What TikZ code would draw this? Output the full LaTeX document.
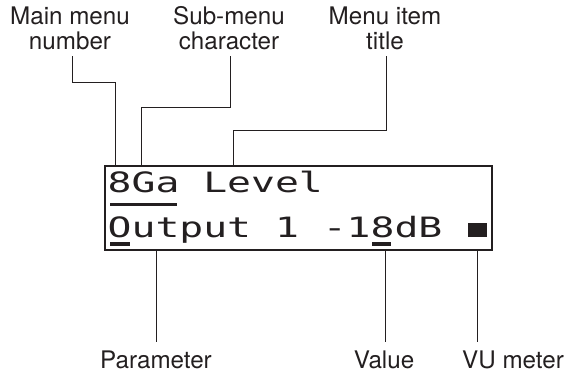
\documentclass[tikz,border=0pt]{standalone}
\usepackage{fontspec}
\setmainfont{TeX Gyre Heros}
\newfontfamily\lcdfont{DejaVu Sans Mono}[FakeStretch=1.418]
\definecolor{ink}{RGB}{35,31,32}
\begin{document}
\begin{tikzpicture}[x=1pt,y=-1pt,
  lbl/.style={inner sep=0pt,align=center,text=ink,font=\fontsize{24.2}{25}\selectfont},
  leader/.style={draw=ink,line width=0.9pt},
  lcdtext/.style={inner sep=0pt,anchor=base west,text=ink,font=\lcdfont\fontsize{28}{30}\selectfont},
  lcdbox/.style={draw=ink,line width=1.3pt},
  cursor/.style={fill=ink}]
\useasboundingbox (0,0) rectangle (565,373);
% display
\draw[lcdbox] (105,166) rectangle (492,250);
\node[lcdtext] (line1) at (107.5,192) {8Ga Level};
\node[lcdtext] (line2) at (107.5,237) {Output 1 -18dB};
\fill[ink] (468,223) rectangle (487,237.3);
\fill[cursor] (110,202.8) rectangle (177,205.8);
\fill[cursor] (110,242.3) rectangle (129.5,245.5);
\fill[cursor] (372,242.3) rectangle (390.5,245.5);
% top labels
\node[lbl,anchor=south] (mm) at (70,50) {Main menu\\number};
\node[lbl,anchor=south] (sm) at (229,50) {Sub-menu\\character};
\node[lbl,anchor=south] (mt) at (385,50) {Menu item\\title};
% bottom labels
\node[lbl,anchor=base] (par) at (156,368) {Parameter};
\node[lbl,anchor=base] (val) at (384,368) {Value};
\node[lbl,anchor=base] (vu) at (513,368) {VU meter};
% connector end points
\coordinate (mmA) at (72,56);   \coordinate (mmB) at (115,166);
\coordinate (smA) at (230,56);  \coordinate (smB) at (141,166);
\coordinate (mtA) at (386,56);  \coordinate (mtB) at (233,166);
\coordinate (parA) at (156,250); \coordinate (parB) at (156,342);
\coordinate (valA) at (385,250); \coordinate (valB) at (385,342);
\coordinate (vuA) at (477,250);  \coordinate (vuB) at (477,342);
% leaders
\draw[leader] (mmA) -- (72,82) -- (115,82) -- (mmB);
\draw[leader] (smA) -- (230,107) -- (141,107) -- (smB);
\draw[leader] (mtA) -- (386,130) -- (233,130) -- (mtB);
\draw[leader] (parA) -- (parB);
\draw[leader] (valA) -- (valB);
\draw[leader] (vuA) -- (vuB);
\end{tikzpicture}
\end{document}
